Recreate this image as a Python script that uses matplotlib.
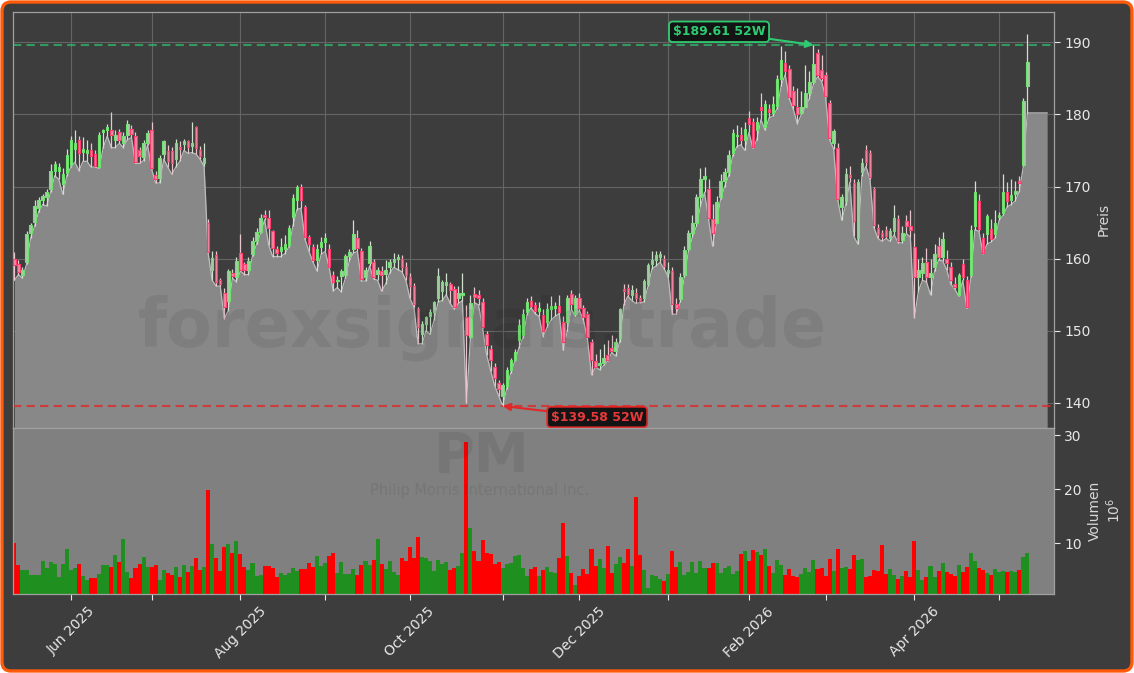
import numpy as np
import pandas as pd
import matplotlib
matplotlib.use("Agg")
import matplotlib.pyplot as plt
from matplotlib.patches import Rectangle, FancyBboxPatch
from matplotlib.collections import PatchCollection, LineCollection
from matplotlib.transforms import IdentityTransform

# ---------------- data ----------------
ticker = "PM"
company = "Philip Morris International Inc."
watermark = "forexsignals.trade"
high_52w = 189.61
low_52w = 139.58
holidays = ["2025-05-26", "2025-06-19", "2025-07-04", "2025-09-01", "2025-11-27",
            "2025-12-25", "2026-01-01", "2026-01-19", "2026-02-16", "2026-04-03"]

opens = [
    160.0, 159.2, 157.7, 159.5, 163.5, 165.1, 167.0, 168.1, 168.6, 169.6,
    172.1, 172.1, 170.4, 171.9, 173.0, 175.2, 176.5, 174.8, 174.6, 175.0,
    174.5, 172.7, 177.5, 177.8, 177.8, 176.4, 177.5, 176.0, 177.2, 178.0,
    177.0, 175.0, 174.1, 176.1, 177.8, 171.6, 171.2, 174.5, 174.9, 174.9,
    173.8, 175.5, 175.9, 176.3, 175.6, 178.2, 175.0, 173.3, 165.0, 158.5,
    160.5, 157.0, 155.3, 154.1, 158.0, 157.5, 160.8, 159.2, 158.5, 160.6,
    162.5, 163.7, 166.1, 165.7, 163.8, 161.3, 161.0, 161.3, 161.9, 165.8,
    168.2, 170.0, 167.2, 163.0, 161.6, 159.8, 161.6, 162.3, 161.3, 157.8,
    156.9, 157.6, 157.7, 160.4, 161.3,
    162.9, 161.1, 157.5, 159.4, 159.6, 157.9, 158.3, 157.9, 158.8, 159.5,
    160.0, 160.0, 158.9, 157.5, 156.2, 153.0, 149.5, 150.9, 152.0, 152.6,
    154.5, 155.5, 156.3, 156.5, 155.8, 154.5, 155.0, 151.9, 149.1, 155.1,
    155.0, 154.0, 149.5, 147.5, 145.0, 142.8, 141.0, 142.3, 144.6, 146.0,
    148.7, 149.4, 152.6, 154.2, 153.6, 152.8, 152.2, 151.2, 153.0, 153.2,
    153.5, 151.2, 151.2, 155.1, 152.4, 154.5, 153.2, 152.3, 148.5, 145.8,
    145.2, 145.6, 146.6, 147.6, 147.2, 149.0, 155.8, 156.0, 155.0, 155.2,
    154.6, 154.5, 156.5, 159.2, 159.8, 160.3, 160.0, 158.0, 158.3, 153.7,
    154.4, 157.8, 161.4, 163.6, 165.0,
    168.5, 171.0, 169.7, 165.5, 165.0, 168.5, 170.8, 172.0, 174.6, 177.0,
    177.2, 176.5, 179.5, 178.9, 177.9, 181.0, 178.3, 180.8, 180.2, 181.1,
    184.9, 187.1, 186.3, 183.3, 181.0, 180.2, 181.0, 183.0, 184.5, 188.5,
    186.2, 185.5, 181.6, 176.0, 175.4, 167.1, 168.0, 171.6, 170.5, 162.9,
    172.0, 175.0, 174.6, 169.6, 164.3, 163.5, 164.0, 162.9, 163.8, 165.5,
    162.6, 165.2, 164.5, 161.6, 157.5, 158.0, 159.5, 157.5, 158.8, 161.7,
    160.3, 160.0, 158.9, 156.5, 155.0, 159.2, 157.1, 157.7, 164.5, 168.0,
    162.9, 163.4, 164.1, 163.4, 165.8, 166.4, 169.3, 168.2, 169.0, 170.8,
    173.0, 184.0,
]
highs = [
    160.9, 159.8, 158.9, 163.8, 165.0, 168.2, 168.6, 169.0, 169.6, 173.1,
    173.6, 173.3, 172.6, 175.2, 177.0, 177.8, 177.0, 176.8, 176.5, 176.0,
    175.0, 177.5, 178.0, 178.6, 180.3, 177.8, 178.0, 177.5, 179.2, 178.5,
    177.5, 175.5, 176.4, 177.8, 178.9, 172.2, 174.4, 176.5, 175.8, 175.5,
    176.6, 176.3, 176.6, 176.4, 179.0, 178.4, 175.6, 176.0, 165.5, 161.0,
    161.0, 157.3, 156.0, 158.6, 158.6, 160.2, 163.4, 159.6, 160.2, 163.0,
    164.3, 166.2, 166.8, 166.8, 164.0, 161.8, 162.8, 163.3, 164.6, 168.9,
    170.2, 170.3, 167.5, 163.3, 162.0, 162.0, 163.0, 163.5, 162.0, 158.3,
    157.6, 158.6, 160.7, 161.3, 165.3,
    164.0, 161.5, 158.8, 162.5, 160.0, 158.8, 159.0, 159.8, 160.0, 160.8,
    160.7, 160.5, 159.5, 158.0, 156.6, 153.3, 151.3, 152.0, 153.0, 154.2,
    158.7, 157.0, 158.0, 156.8, 156.2, 156.2, 158.0, 153.6, 155.0, 156.1,
    155.6, 154.6, 150.0, 148.0, 145.5, 143.2, 142.8, 145.0, 146.3, 147.5,
    151.7, 153.0, 154.6, 154.8, 154.0, 154.0, 153.0, 153.8, 154.8, 154.0,
    154.9, 152.0, 155.0, 155.6, 155.0, 155.2, 153.6, 152.8, 148.8, 146.8,
    147.5, 148.2, 148.7, 149.4, 149.0, 153.2, 156.5, 156.5, 156.3, 156.0,
    155.0, 157.2, 159.4, 161.0, 161.0, 161.0, 160.5, 159.5, 158.8, 154.6,
    158.0, 161.8, 164.0, 166.0, 169.0,
    172.5, 172.7, 171.0, 167.6, 168.7, 171.8, 172.5, 175.0, 178.0, 178.5,
    178.2, 179.0, 180.5, 179.5, 179.7, 183.0, 182.0, 181.5, 182.5, 185.5,
    189.5, 188.8, 186.8, 184.0, 183.6, 183.2, 186.9, 186.0, 189.61, 189.0,
    188.3, 185.9, 182.0, 178.0, 176.0, 169.0, 172.5, 172.8, 171.0, 171.0,
    174.0, 175.7, 175.0, 170.0, 164.8, 164.0, 164.5, 164.2, 167.5, 166.0,
    164.5, 166.0, 166.8, 163.5, 159.9, 160.3, 161.5, 160.0, 162.0, 163.0,
    163.7, 161.2, 159.5, 157.5, 158.0, 160.0, 157.6, 164.6, 170.8, 169.0,
    163.5, 166.2, 165.5, 166.8, 166.5, 171.8, 170.6, 171.0, 170.7, 171.5,
    182.3, 191.2,
]
lows = [
    157.0, 157.8, 157.3, 159.2, 162.8, 164.5, 166.5, 167.5, 167.3, 169.3,
    171.5, 171.0, 168.9, 171.5, 172.7, 173.4, 172.2, 173.5, 173.5, 172.7,
    172.7, 172.5, 175.4, 177.0, 175.4, 175.4, 176.0, 175.4, 176.5, 176.8,
    173.2, 173.2, 173.6, 175.8, 172.4, 170.5, 170.5, 173.8, 172.7, 171.7,
    172.7, 173.5, 175.0, 174.6, 174.7, 174.5, 173.8, 172.8, 160.8, 157.0,
    156.2, 156.2, 151.7, 152.8, 157.3, 156.8, 158.3, 157.8, 157.8, 160.4,
    162.0, 163.5, 165.4, 161.9, 160.3, 160.3, 160.3, 160.7, 161.6, 164.5,
    166.8, 167.0, 162.7, 161.0, 159.5, 158.3, 160.6, 161.0, 158.8, 155.5,
    156.0, 155.4, 157.3, 159.7, 160.8,
    161.0, 156.9, 156.9, 159.0, 157.2, 157.0, 155.5, 156.5, 158.0, 158.8,
    158.5, 158.2, 157.0, 154.5, 153.3, 148.2, 148.2, 150.0, 149.5, 151.5,
    154.0, 154.2, 155.0, 153.8, 153.0, 153.8, 154.2, 140.0, 149.0, 153.9,
    153.6, 150.4, 146.7, 144.5, 142.4, 141.0, 139.58, 142.0, 144.2, 145.8,
    147.6, 149.0, 152.2, 153.2, 152.4, 152.0, 149.2, 150.5, 151.5, 152.0,
    152.4, 147.3, 150.0, 153.0, 152.0, 152.8, 151.5, 148.8, 143.9, 145.0,
    144.6, 145.2, 145.8, 147.0, 146.5, 148.5, 153.6, 154.8, 154.2, 153.8,
    153.9, 154.0, 156.2, 158.6, 159.0, 159.5, 158.6, 157.5, 152.3, 152.3,
    154.0, 157.5, 161.0, 163.0, 164.5,
    167.3, 169.2, 165.5, 161.7, 165.0, 168.3, 170.0, 171.5, 174.3, 175.5,
    175.8, 175.0, 177.5, 175.3, 176.5, 179.3, 177.8, 179.5, 179.8, 180.8,
    184.0, 185.5, 182.2, 180.7, 178.7, 180.0, 181.0, 182.2, 184.2, 185.2,
    184.6, 182.4, 176.5, 175.2, 168.2, 165.3, 167.5, 170.6, 163.1, 162.0,
    171.5, 172.8, 171.0, 164.3, 162.8, 162.4, 162.8, 162.4, 163.3, 162.2,
    162.2, 163.5, 163.0, 151.8, 155.5, 157.0, 156.8, 155.0, 158.3, 159.8,
    159.7, 158.5, 156.5, 155.8, 154.8, 157.0, 153.1, 157.4, 164.0, 163.8,
    160.7, 162.0, 162.3, 162.8, 165.3, 166.0, 167.2, 167.5, 168.0, 169.3,
    172.8, 180.2,
]
closes = [
    159.1, 158.2, 158.4, 163.4, 164.7, 167.3, 168.1, 168.7, 169.3, 172.2,
    173.1, 172.7, 171.8, 174.4, 176.5, 176.0, 174.6, 175.2, 175.0, 174.3,
    172.9, 177.2, 177.8, 178.2, 177.1, 177.2, 176.4, 177.0, 178.6, 177.3,
    173.4, 174.3, 176.1, 177.4, 172.6, 171.1, 174.0, 176.3, 173.5, 173.2,
    176.1, 175.2, 176.3, 175.5, 176.1, 175.4, 174.2, 174.0, 160.9, 160.1,
    156.7, 156.5, 153.3, 158.3, 157.6, 159.7, 158.5, 158.5, 159.7, 162.5,
    163.7, 165.7, 165.8, 164.2, 161.5, 160.8, 161.6, 162.0, 164.3, 168.4,
    169.9, 168.1, 163.0, 162.1, 159.8, 161.4, 162.3, 162.9, 158.9, 156.7,
    157.0, 158.3, 160.4, 160.9, 163.4,
    161.5, 157.2, 158.5, 161.7, 157.4, 158.5, 157.8, 158.5, 159.5, 160.0,
    160.2, 158.8, 157.8, 156.2, 153.7, 150.5, 150.9, 151.9, 152.6, 154.0,
    157.6, 156.7, 156.7, 155.6, 153.3, 155.2, 155.3, 149.4, 153.9, 154.7,
    154.6, 150.5, 148.0, 146.0, 143.5, 142.0, 142.5, 144.6, 146.0, 147.0,
    150.8, 152.3, 154.0, 153.5, 152.8, 153.2, 150.0, 153.0, 153.5, 153.4,
    152.6, 148.4, 154.6, 153.7, 154.6, 153.2, 151.9, 149.1, 146.0, 145.0,
    145.6, 146.2, 146.0, 147.2, 148.5, 153.0, 155.5, 155.1, 155.6, 154.5,
    154.2, 156.9, 159.1, 159.8, 160.5, 160.6, 159.0, 158.5, 153.7, 153.2,
    157.4, 161.2, 163.6, 165.0, 168.5,
    171.0, 171.5, 165.7, 163.5, 167.8, 170.8, 172.0, 174.4, 177.4, 177.2,
    176.4, 178.0, 178.6, 175.5, 179.0, 180.6, 181.4, 180.3, 181.4, 184.9,
    187.5, 186.0, 182.4, 181.3, 180.0, 181.0, 183.0, 184.5, 187.0, 185.5,
    185.0, 182.5, 176.7, 177.7, 168.3, 168.5, 171.8, 171.3, 165.2, 170.6,
    173.2, 173.4, 171.3, 164.6, 163.4, 163.0, 163.1, 163.8, 165.6, 162.4,
    163.5, 164.5, 164.0, 157.5, 158.4, 159.4, 157.5, 158.0, 160.6, 160.3,
    162.7, 159.4, 157.1, 156.1, 157.7, 157.5, 153.3, 164.0, 169.3, 164.1,
    160.8, 165.9, 162.7, 165.0, 166.1, 169.3, 168.0, 168.8, 169.4, 170.5,
    181.8, 187.3,
]
volumes = [  # millions of shares
    10.0, 6.0, 5.0, 5.0, 4.0, 4.1, 4.0, 6.6, 5.3, 6.5,
    6.1, 3.8, 6.1, 8.9, 5.0, 5.4, 6.1, 3.9, 3.1, 3.6,
    3.6, 4.3, 5.9, 5.9, 5.5, 7.7, 6.5, 10.8, 4.6, 3.6,
    5.4, 6.1, 7.4, 5.5, 5.5, 5.9, 3.2, 5.0, 4.5, 4.1,
    5.5, 3.7, 5.9, 4.6, 5.7, 7.2, 5.0, 5.5, 19.9, 9.8,
    7.3, 4.9, 9.2, 9.8, 8.2, 10.4, 8.0, 5.5, 5.0, 6.3,
    3.9, 4.1, 5.7, 5.7, 5.4, 3.7, 4.5, 4.1, 4.5, 5.4,
    4.9, 5.2, 5.2, 6.3, 5.5, 7.6, 5.7, 6.3, 7.6, 8.2,
    4.5, 6.5, 4.3, 4.3, 5.2, 4.1, 5.9, 6.6, 5.9, 6.8,
    10.8, 6.1, 5.1, 6.7, 4.6, 4.0, 7.2, 6.7, 9.2, 7.2,
    11.2, 7.4, 7.2, 6.7, 4.9, 6.9, 6.1, 6.5, 5.0, 5.4,
    5.7, 8.2, 28.7, 12.8, 8.6, 6.7, 10.6, 8.2, 8.0, 6.1,
    6.5, 5.4, 6.1, 6.3, 7.6, 7.8, 5.4, 3.9, 5.2, 5.5,
    3.9, 5.0, 5.5, 4.6, 4.5, 7.2, 13.7, 7.6, 4.5, 2.3,
    3.9, 5.2, 4.3, 8.9, 5.7, 7.0, 5.4, 9.5, 4.5, 6.1,
    7.4, 6.3, 8.9, 5.7, 18.5, 7.8, 5.0, 1.7, 4.0, 3.9,
    3.3, 3.0, 4.3, 8.6, 5.5, 6.5, 4.1, 4.6, 6.5, 4.5,
    6.7, 5.4, 5.4, 6.3, 6.3, 4.5, 5.4, 5.7, 4.3, 4.9,
    8.0, 8.6, 6.7, 8.8, 8.4, 7.8, 8.9, 5.7, 4.5, 6.9,
    5.9, 4.0, 5.2, 3.9, 3.7, 4.3, 5.4, 4.6, 6.9, 5.2,
    5.4, 3.9, 7.1, 4.9, 8.9, 5.4, 5.5, 5.2, 7.8, 6.9,
    7.1, 3.7, 3.9, 5.0, 4.9, 9.7, 4.3, 5.2, 4.0, 3.3,
    3.9, 4.9, 3.7, 10.3, 5.0, 3.2, 3.7, 5.7, 3.7, 4.9,
    6.3, 4.6, 4.3, 3.9, 5.9, 4.6, 5.5, 8.2, 6.7, 5.4,
    5.0, 4.5, 4.0, 5.2, 4.6, 4.9, 4.6, 4.9, 4.6, 5.0,
    7.4, 8.2,
]

# ---------------- prep ----------------
dates = pd.bdate_range("2025-05-12", "2026-05-12")
dates = dates[~dates.isin(pd.to_datetime(holidays))]
n = min(len(dates), len(opens), len(highs), len(lows), len(closes), len(volumes))
dates = dates[:n]
o = np.array(opens[:n]); h = np.array(highs[:n]); l = np.array(lows[:n]); c = np.array(closes[:n])
v = np.array(volumes[:n])
x = np.arange(n)
up = c >= o

BG = "#3d3d3d"
W, H = 1134, 673
fig = plt.figure(figsize=(W / 100, H / 100), dpi=100)
fig.patch.set_facecolor("white")
fig.add_artist(FancyBboxPatch((2, 2), W - 4, H - 4, boxstyle="round,pad=0,rounding_size=9",
                              transform=IdentityTransform(), fc=BG, ec="#ff5a0a", lw=2.4, zorder=-5))


def fr(x0, y0, x1, y1):
    return [x0 / W, 1 - y1 / H, (x1 - x0) / W, (y1 - y0) / H]


ax = fig.add_axes(fr(13, 12.3, 1054, 427.5))
axv = fig.add_axes(fr(13, 427.5, 1054, 594), sharex=ax)
ax.set_facecolor(BG)
axv.set_facecolor("#808080")

# area under lows
x_end = n + 3.9
xf = np.append(x, x_end)
lf = np.append(l, l[-1])
ax.fill_between(xf, lf, 130, color="#888888", zorder=1, lw=0)
ax.plot(xf, lf, color="#bdbdbd", lw=0.9, zorder=1.5)

# candles
wick_cols = np.where(up, "#cfe0cf", "#e8c4cc")
wicks = LineCollection([[(xi, li), (xi, hi)] for xi, li, hi in zip(x, l, h)],
                       colors=wick_cols, linewidths=0.9, zorder=3)
ax.add_collection(wicks)
bw = 0.62
rects, fcs, ecs = [], [], []
for xi, oi, ci, u in zip(x, o, c, up):
    bottom = min(oi, ci)
    height = max(abs(ci - oi), 0.12)
    rects.append(Rectangle((xi - bw / 2, bottom), bw, height))
    fcs.append("#a9c9a9" if u else "#f08aa2")
    ecs.append("#6ee06e" if u else "#ff3d6e")
ax.add_collection(PatchCollection(rects, facecolors=fcs, edgecolors=ecs, linewidths=0.8, zorder=4))

# 52-week lines and labels
ax.axhline(high_52w, color="#2ecc71", alpha=0.65, lw=1.5, ls=(0, (4, 2.5)), zorder=2)
ax.axhline(low_52w, color="#e02828", alpha=0.8, lw=1.5, ls=(0, (4, 2.5)), zorder=2)
ih = int(np.argmax(h[:-1]))
il = int(np.argmin(l))
ax.annotate(f"${high_52w:.2f} 52W", xy=(ih, high_52w), xytext=(174.6, 191.45),
            ha="center", va="center", fontsize=9, fontweight="bold", color="#2ecc71",
            bbox=dict(boxstyle="round,pad=0.3", fc="#141414", ec="#2ecc71", lw=1.3),
            arrowprops=dict(arrowstyle="-|>", color="#2ecc71", lw=1.5, mutation_scale=11,
                            shrinkA=0, shrinkB=0), zorder=6)
ax.annotate(f"${low_52w:.2f} 52W", xy=(il, low_52w), xytext=(144.4, 138.05),
            ha="center", va="center", fontsize=9, fontweight="bold", color="#e8393a",
            bbox=dict(boxstyle="round,pad=0.3", fc="#141414", ec="#e02828", lw=1.3),
            arrowprops=dict(arrowstyle="-|>", color="#e02828", lw=1.5, mutation_scale=11,
                            shrinkA=0, shrinkB=0), zorder=6)

# volume bars
axv.bar(x, v, width=1.0, color=np.where(up, "#1f8f1f", "#ff0000"), lw=0, zorder=2)

# axes limits
ax.set_xlim(-0.35, n + 5.6)
ax.set_ylim(136.6, 194.15)
axv.set_ylim(0.56, 31.4)

# month ticks
per = dates.to_period("M")
tick_idx = [i for i in range(1, n) if per[i] != per[i - 1]]
tick_lab = [dates[i].strftime("%b %Y") if k % 2 == 0 else "" for k, i in enumerate(tick_idx)]
axv.set_xticks(tick_idx)
axv.set_xticklabels(tick_lab, rotation=45, fontsize=10, color="#e8e8e8")
ax.tick_params(axis="x", bottom=False, labelbottom=False)

TXT = "#e8e8e8"
for a in (ax, axv):
    a.yaxis.tick_right()
    a.yaxis.set_label_position("right")
    a.tick_params(axis="y", colors=TXT, labelsize=10, length=4)
    a.tick_params(axis="x", colors=TXT, length=4)
    for s in a.spines.values():
        s.set_color("#a0a0a0")
        s.set_linewidth(0.9)
ax.set_yticks([140, 150, 160, 170, 180, 190])
axv.set_yticks([10, 20, 30])
ax.set_ylabel("Preis", color="#d8d8d8", fontsize=10)
axv.set_ylabel("Volumen\n$10^{6}$", color="#d8d8d8", fontsize=10)

ax.set_axisbelow(True)
ax.grid(True, color="#646464", lw=0.8)
axv.grid(False)

# watermarks
WM = "#000000"
fig.text(482 / W, 1 - 328 / H, watermark, fontsize=48, fontweight="bold", color=WM,
         alpha=0.07, ha="center", va="center", zorder=5)
fig.text(482 / W, 1 - 457 / H, ticker, fontsize=40, fontweight="bold", color=WM,
         alpha=0.07, ha="center", va="center", zorder=5)
fig.text(480 / W, 1 - 491 / H, company, fontsize=10.5, color=WM,
         alpha=0.07, ha="center", va="center", zorder=5)

fig.savefig("out.png", dpi=100, facecolor=fig.get_facecolor())
